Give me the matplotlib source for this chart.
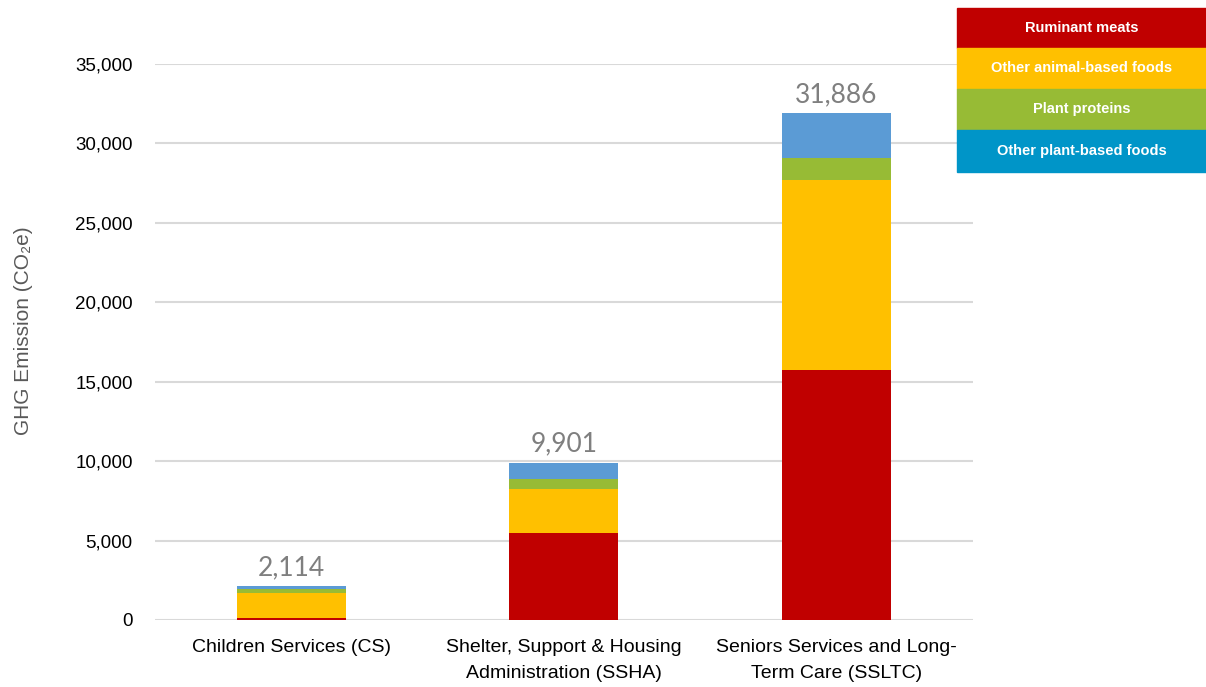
import numpy as np
from matplotlib import pyplot as plt
from matplotlib.patches import Rectangle

###* DATA
divisions = ["Children Services (CS)",
             "Shelter, Support & Housing\nAdministration (SSHA)",
             "Seniors Services and Long-\nTerm Care (SSLTC)"]
food_groups = ["Ruminant meats", "Other animal-based foods", "Plant proteins", "Other plant-based foods"]
ruminant = [150, 5450, 15750]
other_animal = [1550, 2800, 11950]
plant_protein = [250, 650, 1400]
other_plant = [164, 1001, 2786]
totals = [2114, 9901, 31886]

bar_colors = ["#C00000", "#FFC000", "#97BB35", "#5B9BD5"]
legend_colors = ["#C00000", "#FFC000", "#97BB35", "#0095C8"]

###* FIGURE
plt.rcParams["font.family"] = ["Liberation Sans", "DejaVu Sans"]
fig = plt.figure(figsize=(12.06, 6.87), dpi=100)
ax = fig.add_axes([155 / 1206, 1 - 620 / 687, 817.5 / 1206, 556 / 687])

x = np.arange(len(divisions))
bottom = np.zeros(len(divisions))
for vals, col in zip([ruminant, other_animal, plant_protein, other_plant], bar_colors):
    ax.bar(x, vals, width=0.40, bottom=bottom, color=col, zorder=3)
    bottom += np.array(vals)

for xi, tot in zip(x, totals):
    ax.text(xi, tot + 400, f"{tot:,}", ha="center", va="bottom", fontsize=19,
            color="#7F7F7F", family=["Lato", "DejaVu Sans"], clip_on=False)

ax.set_xlim(-0.5, 2.5)
ax.set_ylim(0, 35000)
ax.set_yticks(np.arange(0, 35001, 5000))
ax.yaxis.set_major_formatter(plt.FuncFormatter(lambda v, p: f"{int(v):,}"))
ax.set_xticks(x)
ax.set_xticklabels(divisions, fontsize=14, linespacing=1.65)
ax.tick_params(axis="y", labelsize=13.5, length=0, pad=16)
ax.tick_params(axis="x", length=0, pad=14)
ax.grid(axis="y", color="#D9D9D9", linewidth=1.5, zorder=0)
for s in ax.spines.values():
    s.set_visible(False)
ax.set_ylabel("GHG Emission (CO\u2082e)", fontsize=15, color="#595959")
ax.yaxis.set_label_coords(-122 / 817.5, 0.52)

#* Legend block
lx0, lx1 = 957, 1206
row_tops = [8, 48, 89, 130, 172]
for i, (name, col) in enumerate(zip(food_groups, legend_colors)):
    y0, y1 = row_tops[i], row_tops[i + 1]
    fig.patches.append(Rectangle((lx0 / 1206, 1 - y1 / 687), (lx1 - lx0) / 1206, (y1 - y0) / 687,
                                 transform=fig.transFigure, color=col, zorder=5))
    fig.text((lx0 + lx1) / 2 / 1206, 1 - (y0 + y1) / 2 / 687, name, ha="center", va="center",
             color="white", fontsize=10.5, weight="bold",
             family=["Liberation Sans Narrow", "Liberation Sans"], zorder=6)

fig.savefig("out.png", dpi=100)
